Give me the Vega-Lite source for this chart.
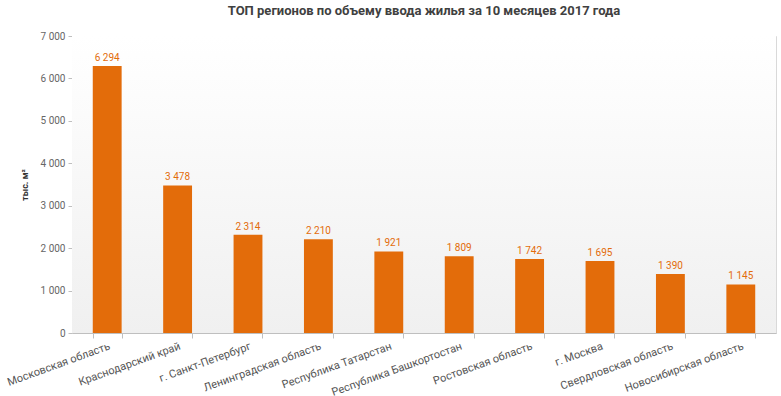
{
  "$schema": "https://vega.github.io/schema/vega-lite/v6.json",
  "autosize": "none",
  "width": 704,
  "height": 297,
  "padding": {"left": 72, "top": 36, "right": 5, "bottom": 63},
  "title": {"text": "ТОП регионов по объему ввода жилья за 10 месяцев 2017 года", "fontSize": 13, "font": "Roboto", "fontWeight": "bold", "color": "#404040", "offset": 13, "anchor": "middle"},
  "config": {
    "locale": {"number": {"decimal": ",", "thousands": " ", "grouping": [3], "currency": ["", ""]}},
    "view": {"stroke": "#d9d9d9", "strokeWidth": 1},
    "font": "Roboto"
  },
  "data": {"values": [
    {"region": "Московская область", "value": 6294},
    {"region": "Краснодарский край", "value": 3478},
    {"region": "г. Санкт-Петербург", "value": 2314},
    {"region": "Ленинградская область", "value": 2210},
    {"region": "Республика Татарстан", "value": 1921},
    {"region": "Республика Башкортостан", "value": 1809},
    {"region": "Ростовская область", "value": 1742},
    {"region": "г. Москва", "value": 1695},
    {"region": "Свердловская область", "value": 1390},
    {"region": "Новосибирская область", "value": 1145}
  ]},
  "encoding": {
    "x": {"field": "region", "type": "nominal", "sort": null,
      "scale": {"paddingInner": 0.59, "paddingOuter": 0.295},
      "axis": {"title": null, "labelAngle": -20, "labelAlign": "right", "labelBaseline": "top", "labelFontSize": 11, "labelColor": "#555555", "labelPadding": 2, "tickBand": "extent", "tickSize": 5, "tickColor": "#bfbfbf", "domainColor": "#bfbfbf", "grid": false}},
    "y": {"field": "value", "type": "quantitative",
      "scale": {"domain": [0, 7000]},
      "axis": {"title": "тыс. м²", "titleFontSize": 9, "titleFontWeight": "bold", "titleColor": "#333333", "titlePadding": 11, "values": [0,1000,2000,3000,4000,5000,6000,7000], "format": ",d", "labelFontSize": 10, "labelColor": "#666666", "tickSize": 4, "tickColor": "#bfbfbf", "domain": false, "labelPadding": 3, "grid": false}}
  },
  "layer": [
    {
      "data": {"values": [{"bg": 1}]},
      "mark": {"type": "rect", "fill": {"gradient": "linear", "x1": 0, "y1": 0, "x2": 0, "y2": 1, "stops": [{"offset": 0, "color": "#ffffff"}, {"offset": 1, "color": "#f0f0f0"}]}},
      "encoding": {"x": null, "y": null}
    },
    {
      "mark": {"type": "bar", "color": "#e36c0a"}
    },
    {
      "mark": {"type": "text", "dy": -8, "fontSize": 10, "color": "#e36c0a"},
      "encoding": {"text": {"field": "value", "type": "quantitative", "format": ",d"}}
    }
  ]
}
